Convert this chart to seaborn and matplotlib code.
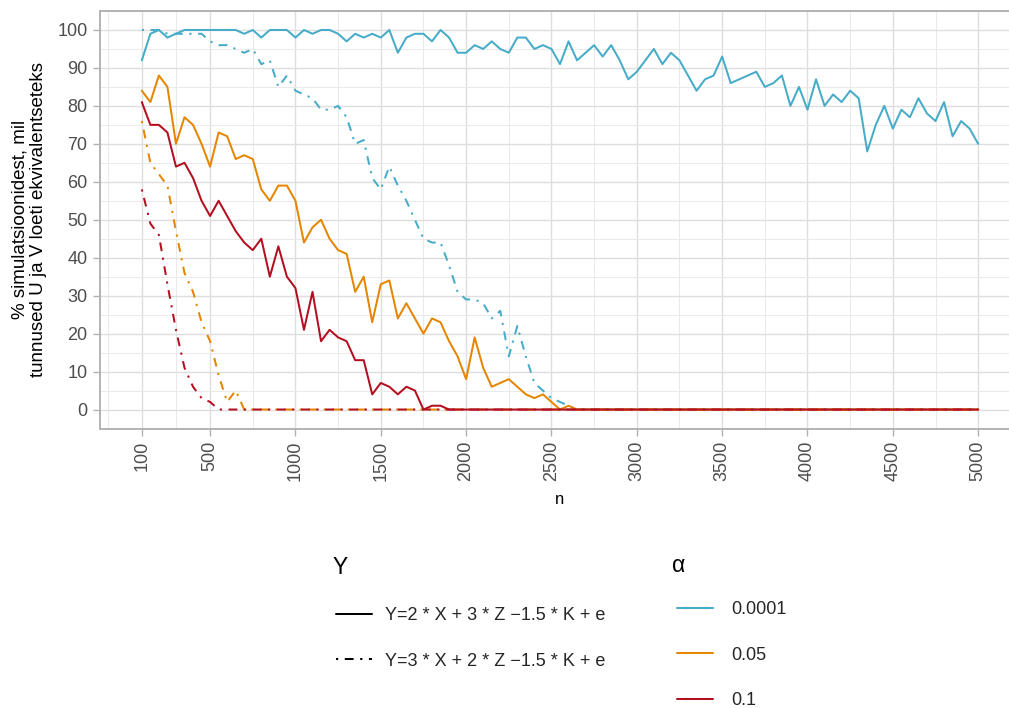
import matplotlib
matplotlib.use("Agg")
import matplotlib.pyplot as plt
from matplotlib.lines import Line2D
import pandas as pd
import seaborn as sns

# Sample sizes n = 100, 150, ..., 5000
N_VALUES = list(range(100, 5001, 50))

ALPHAS = ["0.0001", "0.05", "0.1"]
MODELS = ["Y=2 * X + 3 * Z \u22121.5 * K + e",
          "Y=3 * X + 2 * Z \u22121.5 * K + e"]
COLORS = ["#46ACC8", "#E58601", "#B40F20"]

# % of simulations where U and V were judged equivalent
A0001_M1 = [92, 99, 100, 98, 99, 100, 100, 100, 100, 100, 100, 100, 99, 100, 98, 100, 100, 100, 98, 100,
            99, 100, 100, 99, 97, 99, 98, 99, 98, 100, 94, 98, 99, 99, 97, 100, 98, 94, 94, 96,
            95, 97, 95, 94, 98, 98, 95, 96, 95, 91, 97, 92, 94, 96, 93, 96, 92, 87, 89, 92,
            95, 91, 94, 92, 88, 84, 87, 88, 93, 86, 87, 88, 89, 85, 86, 88, 80, 85, 79, 87,
            80, 83, 81, 84, 82, 68, 75, 80, 74, 79, 77, 82, 78, 76, 81, 72, 76, 74, 70]
A0001_M2 = [100, 100, 100, 99, 99, 99, 99, 99, 97, 96, 96, 95, 94, 95, 91, 92, 85, 88, 84, 83,
            82, 79, 79, 80, 77, 70, 71, 61, 58, 64, 59, 55, 50, 45, 44, 44, 38, 31, 29, 29,
            28, 24, 26, 14, 22, 14, 7, 5, 3, 2, 1, 0, 0, 0, 0, 0, 0, 0, 0, 0,
            0, 0, 0, 0, 0, 0, 0, 0, 0, 0, 0, 0, 0, 0, 0, 0, 0, 0, 0, 0,
            0, 0, 0, 0, 0, 0, 0, 0, 0, 0, 0, 0, 0, 0, 0, 0, 0, 0, 0]
A005_M1 = [84, 81, 88, 85, 70, 77, 75, 70, 64, 73, 72, 66, 67, 66, 58, 55, 59, 59, 55, 44,
           48, 50, 45, 42, 41, 31, 35, 23, 33, 34, 24, 28, 24, 20, 24, 23, 18, 14, 8, 19,
           11, 6, 7, 8, 6, 4, 3, 4, 2, 0, 1, 0, 0, 0, 0, 0, 0, 0, 0, 0,
           0, 0, 0, 0, 0, 0, 0, 0, 0, 0, 0, 0, 0, 0, 0, 0, 0, 0, 0, 0,
           0, 0, 0, 0, 0, 0, 0, 0, 0, 0, 0, 0, 0, 0, 0, 0, 0, 0, 0]
A005_M2 = [76, 65, 62, 59, 47, 36, 31, 23, 18, 9, 2, 5, 0, 0, 0, 0, 0, 0, 0, 0,
           0, 0, 0, 0, 0, 0, 0, 0, 0, 0, 0, 0, 0, 0, 0, 0, 0, 0, 0, 0,
           0, 0, 0, 0, 0, 0, 0, 0, 0, 0, 0, 0, 0, 0, 0, 0, 0, 0, 0, 0,
           0, 0, 0, 0, 0, 0, 0, 0, 0, 0, 0, 0, 0, 0, 0, 0, 0, 0, 0, 0,
           0, 0, 0, 0, 0, 0, 0, 0, 0, 0, 0, 0, 0, 0, 0, 0, 0, 0, 0]
A01_M1 = [81, 75, 75, 73, 64, 65, 61, 55, 51, 55, 51, 47, 44, 42, 45, 35, 43, 35, 32, 21,
          31, 18, 21, 19, 18, 13, 13, 4, 7, 6, 4, 6, 5, 0, 1, 1, 0, 0, 0, 0,
          0, 0, 0, 0, 0, 0, 0, 0, 0, 0, 0, 0, 0, 0, 0, 0, 0, 0, 0, 0,
          0, 0, 0, 0, 0, 0, 0, 0, 0, 0, 0, 0, 0, 0, 0, 0, 0, 0, 0, 0,
          0, 0, 0, 0, 0, 0, 0, 0, 0, 0, 0, 0, 0, 0, 0, 0, 0, 0, 0]
A01_M2 = [58, 49, 46, 33, 21, 11, 6, 3, 2, 0, 0, 0, 0, 0, 0, 0, 0, 0, 0, 0,
          0, 0, 0, 0, 0, 0, 0, 0, 0, 0, 0, 0, 0, 0, 0, 0, 0, 0, 0, 0,
          0, 0, 0, 0, 0, 0, 0, 0, 0, 0, 0, 0, 0, 0, 0, 0, 0, 0, 0, 0,
          0, 0, 0, 0, 0, 0, 0, 0, 0, 0, 0, 0, 0, 0, 0, 0, 0, 0, 0, 0,
          0, 0, 0, 0, 0, 0, 0, 0, 0, 0, 0, 0, 0, 0, 0, 0, 0, 0, 0]

SERIES = {
    ("0.0001", MODELS[0]): A0001_M1,
    ("0.0001", MODELS[1]): A0001_M2,
    ("0.05", MODELS[0]): A005_M1,
    ("0.05", MODELS[1]): A005_M2,
    ("0.1", MODELS[0]): A01_M1,
    ("0.1", MODELS[1]): A01_M2,
}

X_TICKS = [100, 500, 1000, 1500, 2000, 2500, 3000, 3500, 4000, 4500, 5000]
X_MINOR = [-100, 300, 750, 1250, 1750, 2250, 2750, 3250, 3750, 4250, 4750]
Y_TICKS = list(range(0, 101, 10))
Y_MINOR = list(range(-5, 106, 10))

rows = []
for (alpha, model), vals in SERIES.items():
    for n, v in zip(N_VALUES, vals):
        rows.append({"n": n, "pct": v, "alpha": alpha, "model": model})
df = pd.DataFrame(rows)

sns.set_theme(style="white")
plt.rcParams["font.family"] = ["Liberation Sans", "DejaVu Sans"]

W, H = 1009, 708
LW = 1.45
DOTDASH = (1.09, 3.27, 4.37, 3.27)

fig = plt.figure(figsize=(W / 100, H / 100), dpi=100)
ax = fig.add_axes([100 / W, 1 - 428.5 / H, 920 / W, 417.5 / H])

sns.lineplot(data=df, x="n", y="pct", hue="alpha", style="model",
             hue_order=ALPHAS, style_order=MODELS, palette=COLORS,
             dashes=["", DOTDASH], linewidth=LW, estimator=None,
             errorbar=None, legend=False, ax=ax)

ax.set_xlim(-145, 5245)
ax.set_ylim(-5, 105)
ax.set_xticks(X_TICKS)
ax.set_xticks(X_MINOR, minor=True)
ax.set_yticks(Y_TICKS)
ax.set_yticks(Y_MINOR, minor=True)
ax.set_xticklabels([str(t) for t in X_TICKS], rotation=90)
ax.grid(which="major", color="#DEDEDE", linewidth=1.0)
ax.grid(which="minor", color="#EAEAEA", linewidth=0.7)
ax.set_axisbelow(True)
for sp in ax.spines.values():
    sp.set_color("#B3B3B3")
    sp.set_linewidth(1.4)
ax.tick_params(which="major", length=5, width=1, color="#B3B3B3",
               labelcolor="#4D4D4D", labelsize=13, pad=4)
ax.tick_params(which="minor", length=0)
ax.tick_params(axis="x", bottom=True)
ax.tick_params(axis="y", left=True)

ax.set_xlabel("n", fontsize=12, color="black", labelpad=8)
ax.set_ylabel("% simulatsioonidest, mil\ntunnused U ja V loeti ekvivalentseteks",
              fontsize=13.5, color="black", linespacing=1.15)
ax.yaxis.set_label_coords(-0.0575, 0.5)

# Legends for model (line type) and significance level (colour)
LEG_FS = 13
LEG_KW = dict(loc="upper left", frameon=False, borderpad=0, borderaxespad=0,
              fontsize=LEG_FS, handlelength=2.0, labelspacing=1.58)

model_handles = [Line2D([], [], color="black", lw=LW),
                 Line2D([], [], color="black", lw=LW, dashes=DOTDASH)]
fig.legend(model_handles, MODELS, bbox_to_anchor=(336 / W, 1 - 607 / H),
           handletextpad=0.72, **LEG_KW)
fig.text(333 / W, 1 - 573.5 / H, "Y", fontsize=16.5, color="black",
         ha="left", va="baseline")

alpha_handles = [Line2D([], [], color=c, lw=LW) for c in COLORS]
fig.legend(alpha_handles, ALPHAS, bbox_to_anchor=(677 / W, 1 - 601 / H),
           handletextpad=1.0, **LEG_KW)
fig.text(672 / W, 1 - 571.5 / H, "\u03b1", fontsize=16.5, color="black",
         ha="left", va="baseline")

fig.savefig("out.png", dpi=100)
